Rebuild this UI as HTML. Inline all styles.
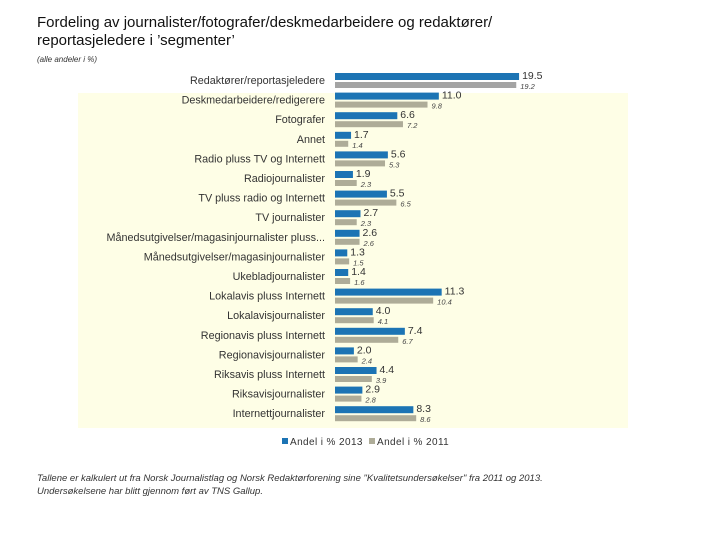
<!DOCTYPE html>
<html><head><meta charset="utf-8"><style>
body{margin:0;width:720px;height:540px;background:#fff;font-family:"Liberation Sans",sans-serif;overflow:hidden;position:relative}
.t{position:absolute;white-space:nowrap}
</style></head><body>
<div class="t" style="left:37px;top:14px;font-size:15px;line-height:18px;color:#111">Fordeling av journalister/fotografer/deskmedarbeidere og redaktører/<br>reportasjeledere i ’segmenter’</div>
<div class="t" style="left:37px;top:55px;font-size:8px;font-style:italic;color:#333">(alle andeler i %)</div>
<svg id="c" width="720" height="540" style="position:absolute;left:0;top:0"></svg>
<div class="t" style="left:37px;top:473px;font-size:9.5px;line-height:12.5px;font-style:italic;color:#333">Tallene er kalkulert ut fra Norsk Journalistlag og Norsk Redaktørforening sine "Kvalitetsundersøkelser" fra 2011 og 2013.<br>Undersøkelsene har blitt gjennom ført av TNS Gallup.</div>
<script>
const categories=["Redaktører/reportasjeledere","Deskmedarbeidere/redigerere","Fotografer","Annet","Radio pluss TV og Internett","Radiojournalister","TV pluss radio og Internett","TV journalister","Månedsutgivelser/magasinjournalister pluss...","Månedsutgivelser/magasinjournalister","Ukebladjournalister","Lokalavis pluss Internett","Lokalavisjournalister","Regionavis pluss Internett","Regionavisjournalister","Riksavis pluss Internett","Riksavisjournalister","Internettjournalister"];
const values2013=[19.5,11.0,6.6,1.7,5.6,1.9,5.5,2.7,2.6,1.3,1.4,11.3,4.0,7.4,2.0,4.4,2.9,8.3];
const values2011=[19.2,9.8,7.2,1.4,5.3,2.3,6.5,2.3,2.6,1.5,1.6,10.4,4.1,6.7,2.4,3.9,2.8,8.6];
const svg=document.getElementById('c');const NS='http://www.w3.org/2000/svg';
const x0=335,k=9.44,y0=80,step=19.6;
const X=v=>k*v, Y=i=>y0+i*step;
function mk(t,a,p){const e=document.createElementNS(NS,t);for(const q in a)e.setAttribute(q,a[q]);(p||svg).appendChild(e);return e;}
const bg=mk('rect',{x:78,y:93,width:550,height:335,fill:'#fefee6'});


categories.forEach((c,i)=>{
 const y=Y(i);
 const l=mk('text',{x:325,y:y+4,'text-anchor':'end','font-size':10.8,fill:'#333'});l.textContent=c;
 
 
 const b=mk('rect',{x:x0,y:y-7,width:X(values2013[i]),height:7,fill:'#1c74b4'});
 
 
 const g=mk('rect',{x:x0,y:y+2,width:X(values2011[i]),height:6,fill:i==0?'#a4a4a4':'#aeac98'});
 
 
 const t1=mk('text',{x:x0+X(values2013[i])+3,y:y-1,'font-size':10.5,fill:'#333'});t1.textContent=values2013[i].toFixed(1);
 
 
 const t2=mk('text',{x:x0+X(values2011[i])+4,y:y+9,'font-size':7.5,'font-style':'italic',fill:'#444'});t2.textContent=values2011[i].toFixed(1);
 
 
});
const lg=mk('g',{});


mk('rect',{x:282,y:438,width:6,height:6,fill:'#1c74b4'},lg);
const a=mk('text',{x:290,y:445,'font-size':10,'letter-spacing':'0.4',fill:'#333'},lg);a.textContent='Andel i % 2013';
mk('rect',{x:369,y:438,width:6,height:6,fill:'#aeac98'},lg);
const b2=mk('text',{x:377,y:445,'font-size':10,'letter-spacing':'0.4',fill:'#333'},lg);b2.textContent='Andel i % 2011';
</script>
</body></html>
